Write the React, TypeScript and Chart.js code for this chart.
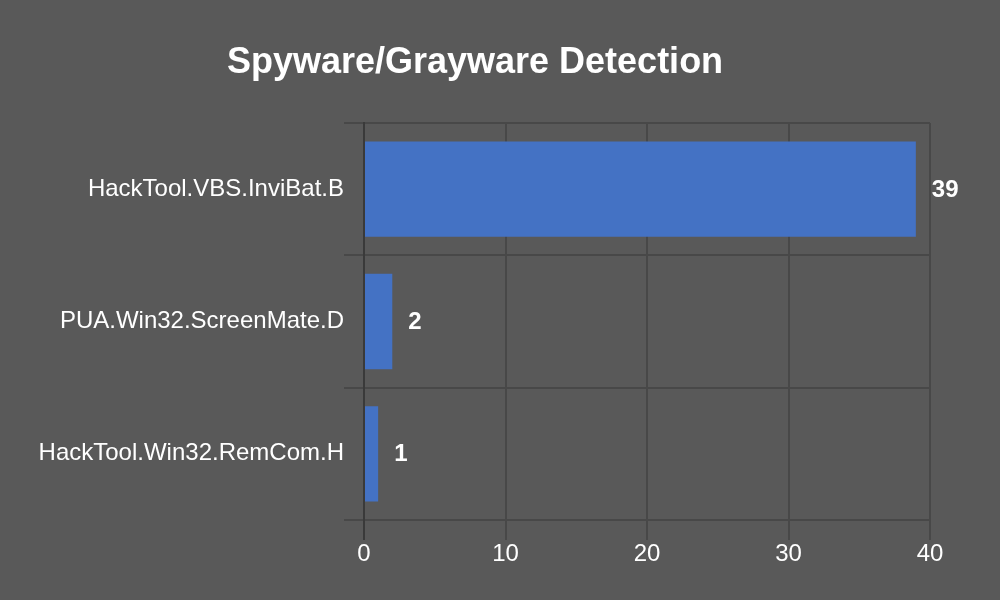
import React, { useEffect, useRef } from "react";
import { Chart, registerables } from "chart.js";

Chart.register(...registerables);

const categories = ["HackTool.VBS.InviBat.B", "PUA.Win32.ScreenMate.D", "HackTool.Win32.RemCom.H"];
const values = [39, 2, 1];
const xTicks = [0, 10, 20, 30, 40];
const titleText = "Spyware/Grayware Detection";

const FONT = "'Liberation Sans', Arial, sans-serif";

const valueLabels = {
  id: "valueLabels",
  afterDatasetsDraw(chart: any) {
    const ctx = chart.ctx;
    const meta = chart.getDatasetMeta(0);
    ctx.save();
    ctx.fillStyle = "#ffffff";
    ctx.font = `bold 24px ${FONT}`;
    ctx.textAlign = "left";
    ctx.textBaseline = "middle";
    meta.data.forEach((el: any, i: number) => {
      ctx.fillText(String(values[i]), el.x + 16, el.y + 1);
    });
    ctx.restore();
  },
};

export default function App() {
  const ref = useRef<HTMLCanvasElement | null>(null);
  useEffect(() => {
    document.body.style.margin = "0";
    const chart = new Chart(ref.current as HTMLCanvasElement, {
      type: "bar",
      data: {
        labels: categories,
        datasets: [
          {
            data: values,
            backgroundColor: "#4472C4",
            borderWidth: 0,
            categoryPercentage: 0.72,
            barPercentage: 1,
          },
        ],
      },
      options: {
        indexAxis: "y",
        responsive: false,
        animation: false,
        layout: { padding: { left: 20, right: 70, top: 0, bottom: 0 } },
        plugins: {
          legend: { display: false },
          tooltip: { enabled: false },
          title: {
            display: true,
            text: titleText,
            color: "#ffffff",
            font: { family: FONT, size: 36, weight: "bold", lineHeight: 1.2 },
            padding: { top: 41, bottom: 38.8 },
          },
        },
        scales: {
          x: {
            min: 0,
            max: 40,
            afterBuildTicks: (scale: any) => {
              scale.ticks = xTicks.map((v) => ({ value: v }));
            },
            afterFit: (scale: any) => {
              scale.height = 80;
            },
            ticks: {
              color: "#ffffff",
              font: { family: FONT, size: 24 },
              padding: 0,
            },
            grid: {
              color: (c: any) => (c.tick && c.tick.value === 0 ? "#3a3a3a" : "#484848"),
              lineWidth: 2,
              tickLength: 20,
            },
            border: { display: true, color: "#484848", width: 2 },
          },
          y: {
            afterFit: (scale: any) => {
              scale.width = 344;
            },
            ticks: {
              color: "#ffffff",
              font: { family: FONT, size: 24 },
              padding: 0,
            },
            grid: {
              color: "#484848",
              lineWidth: 2,
              tickLength: 20,
              offset: true,
            },
            border: { display: true, color: "#3a3a3a", width: 2 },
          },
        },
      },
      plugins: [valueLabels],
    });
    return () => chart.destroy();
  }, []);
  return (
    <div style={{ width: 1000, height: 600, background: "#595959" }}>
      <canvas ref={ref} width={1000} height={600} style={{ display: "block" }} />
    </div>
  );
}
